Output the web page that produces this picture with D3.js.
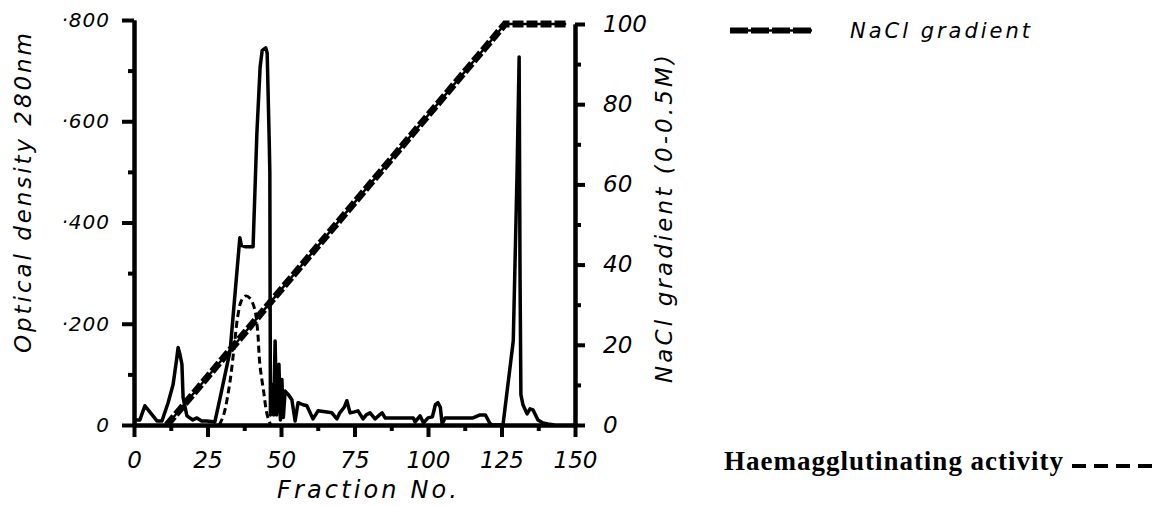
<!DOCTYPE html>
<html lang="en">
<head>
<meta charset="utf-8">
<title>Optical density and NaCl gradient</title>
<script src="https://d3js.org/d3.v7.min.js"></script>
<style>
  body { margin: 0; background: #fff; }
  svg { display: block; }
  .axis path, .axis line { stroke: #000; stroke-width: 4; }
  .axis text { font-family: "DejaVu Sans", sans-serif; font-style: italic; fill: #000; }
  .title { font-family: "DejaVu Sans", sans-serif; font-style: italic; fill: #000; }
  .od { fill: none; stroke: #000; stroke-width: 3.5; stroke-linejoin: round; }
  .ha { fill: none; stroke: #000; stroke-width: 3; stroke-dasharray: 7 4; }
  .nacl-thin { fill: none; stroke: #000; stroke-width: 2.5; }
  .nacl-thick { fill: none; stroke: #000; stroke-width: 7; stroke-dasharray: 11 3; }
</style>
</head>
<body>
<div id="chart"></div>
<script>
// optical density 280nm, fraction number -> OD
var odFraction = [0, 2, 3.7, 5.5, 7.8, 9.5, 11.6, 13.3, 14.5, 15, 15.6, 16.3, 16.7, 18, 20, 21.4, 23, 24.8, 27.5,
  29.3, 32.7, 36, 36.5, 38, 40.5, 41.8, 42.9, 43.6, 44.8, 45.3, 46, 46.2, 46.4,
  47, 47.5, 48, 48.5, 49.3, 49.8, 50.3, 50.8, 51.4, 52.5, 53.7, 54.8, 55.8, 57.5, 58.8, 60.9, 62.6, 65, 67.3, 69,
  70, 71.5, 72.4, 73.5, 75, 76.2, 77.9, 79, 80.3, 82, 83.5, 84.4, 85.4, 92.2, 95, 95.6, 97.3, 98.5, 100, 101.5,
  102.5, 103.4, 104.2, 104.8, 105.8, 115.3, 117.7, 119.5, 121, 121.8, 125.5, 129, 130.3, 131, 131.3, 131.6,
  132.3, 133.7, 134.7, 135.7, 137.4, 139.1, 140.8, 143];
var odValue = [0.01, 0.01, 0.038, 0.025, 0.008, 0.008, 0.044, 0.08, 0.13, 0.153, 0.14, 0.12, 0.054, 0.018, 0.01, 0.014, 0.008, 0.008, 0.006,
  0.054, 0.147, 0.37, 0.355, 0.352, 0.352, 0.577, 0.707, 0.74, 0.745, 0.735, 0.56, 0.5, 0.02,
  0.08, 0.02, 0.166, 0.02, 0.12, 0.01, 0.09, 0.015, 0.067, 0.06, 0.05, 0.008, 0.044, 0.04, 0.038, 0.012, 0.028, 0.026, 0.024, 0.012,
  0.024, 0.035, 0.048, 0.024, 0.026, 0.028, 0.012, 0.02, 0.024, 0.012, 0.02, 0.024, 0.014, 0.014, 0.014, 0.006, 0.018, 0.004, 0.014, 0.016,
  0.04, 0.044, 0.035, 0.002, 0.014, 0.014, 0.02, 0.02, 0.004, 0, 0, 0.166, 0.5, 0.727, 0.3, 0.06,
  0.04, 0.022, 0.032, 0.03, 0.01, 0.004, 0.002, 0];

// haemagglutinating activity (drawn on the OD scale)
var haFraction = [29, 30.5, 32.5, 34, 35.3, 36.5, 38, 39.5, 41, 42, 42.8, 44, 45.3, 46.5];
var haValue = [0, 0.02, 0.08, 0.15, 0.215, 0.245, 0.255, 0.25, 0.23, 0.19, 0.12, 0.07, 0.02, 0];

// NaCl gradient, percent of 0-0.5M
var naclFraction = [11.2, 126.2, 147];
var naclValue = [0, 100, 100];

var xMajor = [0, 25, 50, 75, 100, 125, 150];
var xMinor = [12.5, 37.5, 62.5, 87.5, 112.5, 137.5];
var odMajor = [0, 0.2, 0.4, 0.6, 0.8];
var odMinor = [0.1, 0.3, 0.5, 0.7];
var naclMajor = [0, 20, 40, 60, 80, 100];
var naclMinor = [10, 30, 50, 70, 90];

var width = 1159, height = 506;

var svg = d3.select("#chart").append("svg")
    .attr("width", width)
    .attr("height", height);

var x = d3.scaleLinear().domain([0, 150]).range([134, 575]);
var yl = d3.scaleLinear().domain([0, 0.8]).range([425, 20]);
var yr = d3.scaleLinear().domain([0, 100]).range([425, 24]);

// axes
svg.append("g").attr("class", "axis")
    .attr("transform", "translate(0,425)")
    .call(d3.axisBottom(x).tickValues(xMinor).tickSize(6).tickSizeOuter(0).tickFormat(""));
var xAxis = svg.append("g").attr("class", "axis")
    .attr("transform", "translate(0,425)")
    .call(d3.axisBottom(x).tickValues(xMajor).tickSize(12).tickSizeOuter(0));
xAxis.selectAll("text").attr("y", 43).attr("dy", null).style("font-size", "23px");

svg.append("g").attr("class", "axis")
    .attr("transform", "translate(134,0)")
    .call(d3.axisLeft(yl).tickValues(odMinor).tickSize(6).tickSizeOuter(0).tickFormat(""));
var ylAxis = svg.append("g").attr("class", "axis")
    .attr("transform", "translate(134,0)")
    .call(d3.axisLeft(yl).tickValues(odMajor).tickSize(12).tickSizeOuter(0).tickPadding(12)
      .tickFormat(function(d) { return d === 0 ? "0" : "\u00b7" + Math.round(d * 1000); }));
ylAxis.selectAll("text").style("font-size", "20px").style("letter-spacing", "1px");

svg.append("g").attr("class", "axis")
    .attr("transform", "translate(575,0)")
    .call(d3.axisRight(yr).tickValues(naclMinor).tickSize(6).tickSizeOuter(0).tickFormat(""));
var yrAxis = svg.append("g").attr("class", "axis")
    .attr("transform", "translate(575,0)")
    .call(d3.axisRight(yr).tickValues(naclMajor).tickSize(10).tickSizeOuter(0).tickPadding(18));
yrAxis.selectAll("text").style("font-size", "23px");

// lines
var odLine = d3.line()
    .x(function(d) { return x(d[0]); })
    .y(function(d) { return yl(d[1]); });
var haLine = d3.line()
    .x(function(d) { return x(d[0]); })
    .y(function(d) { return yl(d[1]); })
    .curve(d3.curveCatmullRom);
var naclLine = d3.line()
    .x(function(d) { return x(d[0]); })
    .y(function(d) { return yr(d[1]); });

svg.append("path")
    .datum(d3.zip(odFraction, odValue))
    .attr("class", "od")
    .attr("d", odLine);

svg.append("path")
    .datum(d3.zip(haFraction, haValue))
    .attr("class", "ha")
    .attr("d", haLine);

var naclData = d3.zip(naclFraction, naclValue);
svg.append("path").datum(naclData).attr("class", "nacl-thin").attr("d", naclLine);
svg.append("path").datum(naclData).attr("class", "nacl-thick").attr("d", naclLine);

// axis titles
svg.append("text")
    .attr("class", "title")
    .attr("transform", "translate(31,193) rotate(-90)")
    .attr("text-anchor", "middle")
    .attr("textLength", 320)
    .attr("lengthAdjust", "spacing")
    .style("font-size", "23px")
    .text("Optical density 280nm");

svg.append("text")
    .attr("class", "title")
    .attr("transform", "translate(672,219) rotate(-90)")
    .attr("text-anchor", "middle")
    .attr("textLength", 328)
    .attr("lengthAdjust", "spacing")
    .style("font-size", "23px")
    .text("NaCl gradient (0-0.5M)");

svg.append("text")
    .attr("class", "title")
    .attr("x", 367)
    .attr("y", 498)
    .attr("text-anchor", "middle")
    .attr("textLength", 180)
    .attr("lengthAdjust", "spacing")
    .style("font-size", "24px")
    .text("Fraction No.");

// legends
var legend = svg.append("g");
legend.append("line")
    .attr("x1", 730).attr("x2", 812).attr("y1", 30.5).attr("y2", 30.5)
    .attr("stroke", "#000").attr("stroke-width", 2.5);
legend.append("line")
    .attr("x1", 730).attr("x2", 812).attr("y1", 30.5).attr("y2", 30.5)
    .attr("stroke", "#000").attr("stroke-width", 6).attr("stroke-dasharray", "18 3");
legend.append("text")
    .attr("class", "title")
    .attr("x", 850).attr("y", 38)
    .attr("textLength", 180)
    .attr("lengthAdjust", "spacing")
    .style("font-size", "21px")
    .text("NaCl gradient");

legend.append("text")
    .attr("x", 724).attr("y", 470)
    .attr("textLength", 339)
    .attr("lengthAdjust", "spacing")
    .style("font-family", "'Liberation Serif', serif")
    .style("font-weight", "bold")
    .style("font-size", "27px")
    .text("Haemagglutinating activity");
legend.append("line")
    .attr("x1", 1072).attr("x2", 1157).attr("y1", 466).attr("y2", 466)
    .attr("stroke", "#000").attr("stroke-width", 4).attr("stroke-dasharray", "14 8");
</script>
</body>
</html>
